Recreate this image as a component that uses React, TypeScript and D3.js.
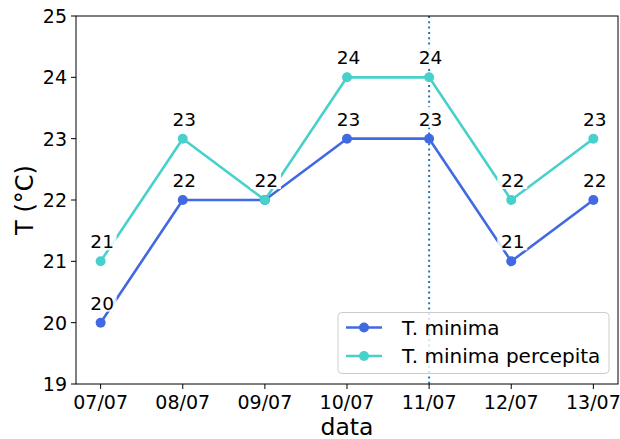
import React from "react";
import * as d3 from "d3";

const dates = ["07/07", "08/07", "09/07", "10/07", "11/07", "12/07", "13/07"];
const tMin = [20, 22, 22, 23, 23, 21, 22];
const tMinPerc = [21, 23, 22, 24, 24, 22, 23];
const yTicks = [19, 20, 21, 22, 23, 24, 25];
const markerDate = "11/07";

const W = 620, H = 439;
const L = 76, R = 618, T = 16, B = 384;
const FONT = "DejaVu Sans, sans-serif";
const FS = 19;

export default function App() {
  const x = d3.scaleLinear().domain([-0.3, dates.length - 1 + 0.3]).range([L, R]);
  const y = d3.scaleLinear().domain([19, 25]).range([B, T]);
  const line = d3.line<number>().x((_, i) => x(i)).y((d) => y(d));
  const series = [
    { name: "T. minima", data: tMin, color: "#4169e1" },
    { name: "T. minima percepita", data: tMinPerc, color: "#48d1cc" },
  ];
  const mi = dates.indexOf(markerDate);
  return (
    <svg width={W} height={H} style={{ position: "absolute", left: 0, top: 0, background: "#fff" }} fontFamily={FONT}>
      <rect x={0} y={0} width={W} height={H} fill="#fff" />
      <line x1={x(mi)} x2={x(mi)} y1={T} y2={B} stroke="#1f77b4" strokeWidth={2} strokeDasharray="2,3.3" />
      {series.map((s) => (
        <path key={s.name} d={line(s.data) || ""} fill="none" stroke={s.color} strokeWidth={2.6} strokeLinejoin="round" />
      ))}
      {series.map((s) =>
        s.data.map((v, i) => (
          <circle key={s.name + i} cx={x(i)} cy={y(v)} r={5} fill={s.color} />
        ))
      )}
      {series.map((s) =>
        s.data.map((v, i) => (
          <g key={"lab" + s.name + i}>
            <rect x={x(i) - 14} y={y(v) - 32} width={30} height={21} fill="#fff" fillOpacity={0.85} />
            <text x={x(i) + 1.5} y={y(v) - 13} textAnchor="middle" fontSize={18.5} fill="#000">
              {v}
            </text>
          </g>
        ))
      )}
      <rect x={L} y={T} width={R - L} height={B - T} fill="none" stroke="#000" strokeWidth={1} />
      {yTicks.map((t) => (
        <g key={t}>
          <line x1={L - 5} x2={L} y1={y(t)} y2={y(t)} stroke="#000" />
          <text x={L - 9} y={y(t) + 7} textAnchor="end" fontSize={FS} fill="#000">
            {t}
          </text>
        </g>
      ))}
      {dates.map((d, i) => (
        <g key={d}>
          <line x1={x(i)} x2={x(i)} y1={B} y2={B + 5} stroke="#000" />
          <text x={x(i)} y={B + 25} textAnchor="middle" fontSize={FS} fill="#000">
            {d}
          </text>
        </g>
      ))}
      <text x={(L + R) / 2} y={434.5} textAnchor="middle" fontSize={23.5} fill="#000">data</text>
      <text transform={`translate(33,${(T + B) / 2}) rotate(-90)`} textAnchor="middle" fontSize={24} fill="#000">T (°C)</text>
      <g>
        <rect x={338} y={312.5} width={271} height={61} rx={4} fill="#fff" fillOpacity={0.8} stroke="#ccc" />
        {series.map((s, i) => (
          <g key={"leg" + s.name}>
            <line x1={346} x2={382} y1={327.5 + i * 28.5} y2={327.5 + i * 28.5} stroke={s.color} strokeWidth={2.6} />
            <circle cx={364} cy={327.5 + i * 28.5} r={5} fill={s.color} />
            <text x={402} y={334.5 + i * 28.5} fontSize={20} fill="#000">{s.name}</text>
          </g>
        ))}
      </g>
    </svg>
  );
}
